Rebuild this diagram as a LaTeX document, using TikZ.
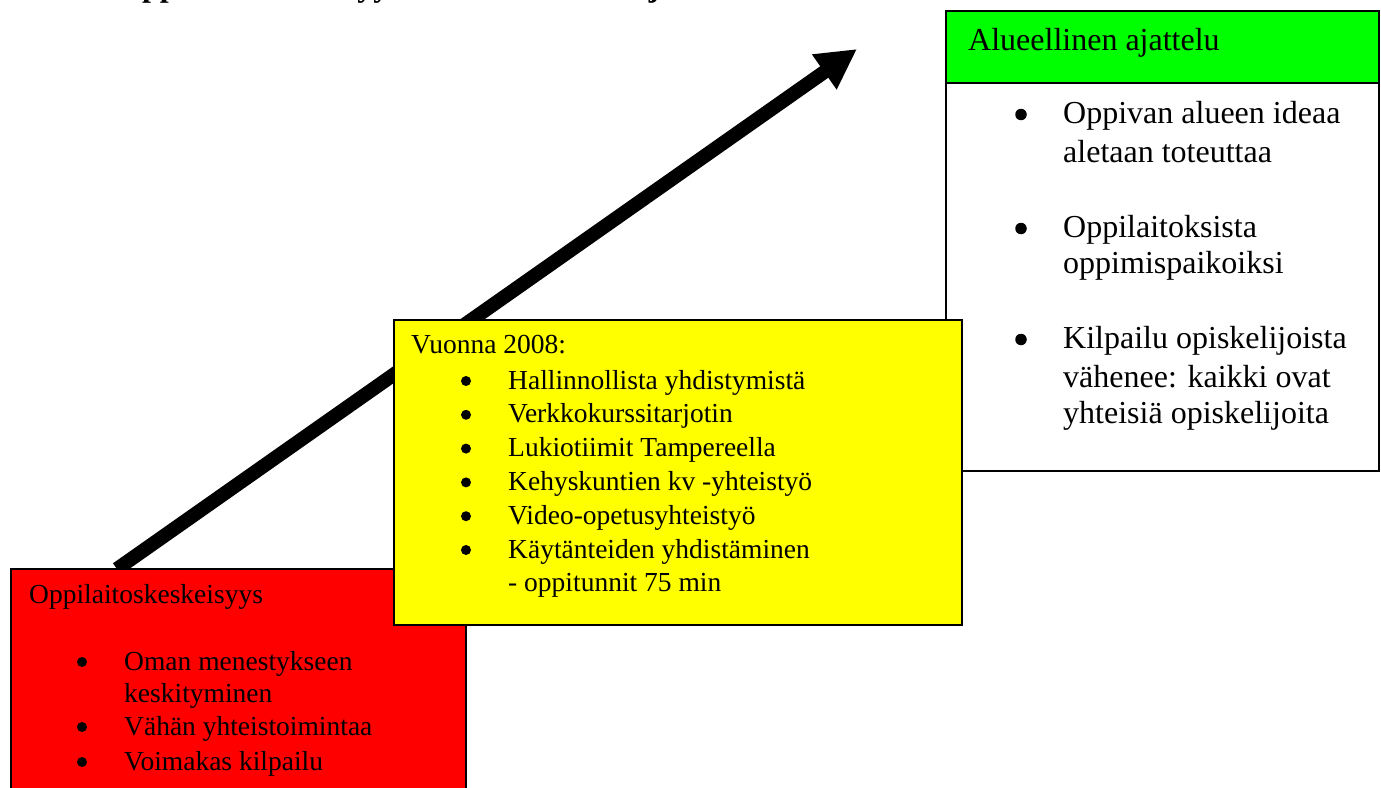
\documentclass[tikz,border=0pt]{standalone}
\usepackage{fontspec}
\setmainfont{Liberation Serif}
\usepackage{xcolor}
\usetikzlibrary{arrows.meta, positioning}
\definecolor{keltainen}{RGB}{255,255,0}
\definecolor{vihrea}{RGB}{0,255,0}
\definecolor{punainen}{RGB}{255,0,0}

\begin{document}
\begin{tikzpicture}[x=1pt, y=-1pt,
    box/.style={draw=black, line width=1.5pt, inner sep=0pt, anchor=north west},
    rivi/.style={anchor=base west, inner sep=0pt, font=\fontsize{27.5}{33}\selectfont},
    isorivi/.style={anchor=base west, inner sep=0pt, font=\fontsize{32}{38}\selectfont},
    pallo/.style={circle, fill=black, inner sep=0pt, minimum size=10pt},
    isopallo/.style={circle, fill=black, inner sep=0pt, minimum size=11.5pt}]
    \useasboundingbox (0,0) rectangle (1381,787);

    % Caption, cut off at the top
    \node[anchor=base west, inner sep=0pt,
          font=\fontsize{32}{38}\selectfont\bfseries
          ] (otsikko) at (117,-4) {\llap{Kuva 1. }Oppilaitoskeskeisyydestä alueelliseen ajatteluun};

    % The arrow
    \coordinate (alku) at (117,569);
    \coordinate (karki) at (857,49);
    \draw[line width=14pt, -{Triangle[length=40pt,width=40pt]}] (alku) -- (karki);

    % Add the boxes
    \node[box, fill=white,
          minimum width=433pt, minimum height=460pt
          ] (alue) at (945,10) {};
    \node[box, fill=vihrea,
          minimum width=433pt, minimum height=72pt
          ] (alueotsikko) at (945,10) {};
    \node[box, fill=punainen,
          minimum width=455pt, minimum height=240pt
          ] (oppilaitos) at (10,568) {};
    \node[box, fill=keltainen,
          minimum width=568pt, minimum height=305pt
          ] (vuosi) at (393,319) {};

    % Alueellinen ajattelu
    \node[isorivi] (alue0) at (968,50) {Alueellinen ajattelu};
    \foreach \y [count=\i] in {123,237,348}
        \node[isopallo] (aluepallo\i) at (1021,\y-8.5) {};
    \foreach \y/\txt [count=\i] in {123/Oppivan alueen ideaa, 162/aletaan toteuttaa,
            237/Oppilaitoksista, 273/oppimispaikoiksi,
            348/Kilpailu opiskelijoista, 387/vähenee: kaikki ovat, 423/yhteisiä opiskelijoita}
        \node[isorivi] (alue\i) at (1063,\y) {\txt};

    % Vuonna 2008
    \node[rivi] (vuosi0) at (411,353) {Vuonna 2008:};
    \foreach \i in {1,...,6}
        \node[pallo] (vuosipallo\i) at (466,381+33.8*\i-33.8) {};
    \foreach \txt [count=\i] in {Hallinnollista yhdistymistä, Verkkokurssitarjotin,
            Lukiotiimit Tampereella, Kehyskuntien kv -yhteistyö, Video-opetusyhteistyö,
            Käytänteiden yhdistäminen, - oppitunnit 75 min}
        \node[rivi] (vuosi\i) at (508,389+33.8*\i-33.8) {\txt};

    % Oppilaitoskeskeisyys
    \node[rivi] (oppilaitos0) at (29,603) {Oppilaitoskeskeisyys};
    \foreach \y [count=\i] in {670,735,770}
        \node[pallo] (oppilaitospallo\i) at (82,\y-8) {};
    \foreach \y/\txt [count=\i] in {670/Oman menestykseen, 702/keskityminen,
            735/Vähän yhteistoimintaa, 770/Voimakas kilpailu}
        \node[rivi] (oppilaitos\i) at (124,\y) {\txt};
\end{tikzpicture}
\end{document}
